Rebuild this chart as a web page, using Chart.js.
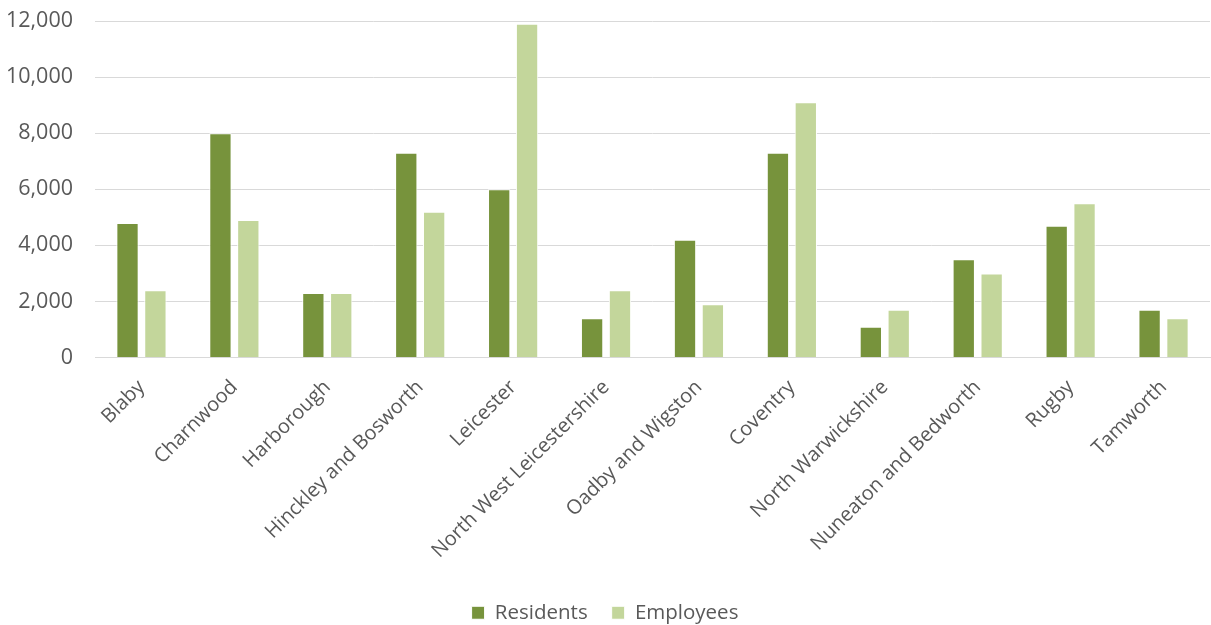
<!DOCTYPE html>
<html>
<head>
<meta charset="utf-8">
<script src="https://cdn.jsdelivr.net/npm/chart.js@4"></script>
<style>
  html, body { margin: 0; padding: 0; background: #fff; }
  #wrap { width: 1211px; height: 625px; position: relative; }
</style>
</head>
<body>
<div id="wrap"><canvas id="chart"></canvas></div>
<script>
// Residents vs employees by district
const districts = [
    'Blaby', 'Charnwood', 'Harborough', 'Hinckley and Bosworth', 'Leicester',
    'North West Leicestershire', 'Oadby and Wigston', 'Coventry',
    'North Warwickshire', 'Nuneaton and Bedworth', 'Rugby', 'Tamworth'
];
const residents = [4800, 8000, 2300, 7300, 6000, 1400, 4200, 7300, 1100, 3500, 4700, 1700];
const employees = [2400, 4900, 2300, 5200, 11900, 2400, 1900, 9100, 1700, 3000, 5500, 1400];
const yTicks = [0, 2000, 4000, 6000, 8000, 10000, 12000];

const textColor = '#595959';
const gridColor = '#d9d9d9';
const fontFamily = "'Open Sans', 'Liberation Sans', sans-serif";

// legend sits a bit lower than Chart.js would put it, nudge it down after layout
const legendShift = {
    id: 'legendShift',
    afterLayout(chart) {
        const dy = 8;
        chart.legend.top += dy;
        chart.legend.bottom += dy;
    }
};

const ctx = document.getElementById('chart').getContext('2d');
new Chart(ctx, {
    type: 'bar',
    data: {
        labels: districts,
        datasets: [
            {
                label: 'Residents',
                data: residents,
                backgroundColor: '#77933c',
                borderColor: '#ffffff',
                borderWidth: 1,
                borderSkipped: 'bottom',
                categoryPercentage: 0.6,
                barPercentage: 0.8
            },
            {
                label: 'Employees',
                data: employees,
                backgroundColor: '#c3d69b',
                borderColor: '#ffffff',
                borderWidth: 1,
                borderSkipped: 'bottom',
                categoryPercentage: 0.6,
                barPercentage: 0.8
            }
        ]
    },
    plugins: [legendShift],
    options: {
        responsive: true,
        maintainAspectRatio: false,
        animation: false,
        layout: { padding: { top: 0, right: 1, left: 0, bottom: 0 } },
        scales: {
            x: {
                ticks: {
                    color: textColor,
                    font: { family: fontFamily, size: 20 },
                    minRotation: 45,
                    maxRotation: 45,
                    autoSkip: false,
                    padding: 10
                },
                grid: { display: false },
                border: { display: true, color: gridColor, width: 1 },
                afterFit: (scale) => { scale.height = 213; }
            },
            y: {
                min: 0,
                max: 12000,
                afterBuildTicks: (scale) => { scale.ticks = yTicks.map(v => ({ value: v })); },
                ticks: {
                    color: textColor,
                    font: { family: fontFamily, size: 21.5 },
                    padding: 22,
                    callback: (v) => v.toLocaleString('en-GB')
                },
                grid: { color: gridColor, drawTicks: false },
                border: { display: false },
                afterFit: (scale) => { scale.width = 95; scale.paddingTop = 21; }
            }
        },
        plugins: {
            legend: {
                position: 'bottom',
                labels: {
                    color: textColor,
                    font: { family: fontFamily, size: 20.5 },
                    boxWidth: 13,
                    boxHeight: 13,
                    padding: 24
                }
            },
            tooltip: { enabled: false }
        }
    }
});
</script>
</body>
</html>
